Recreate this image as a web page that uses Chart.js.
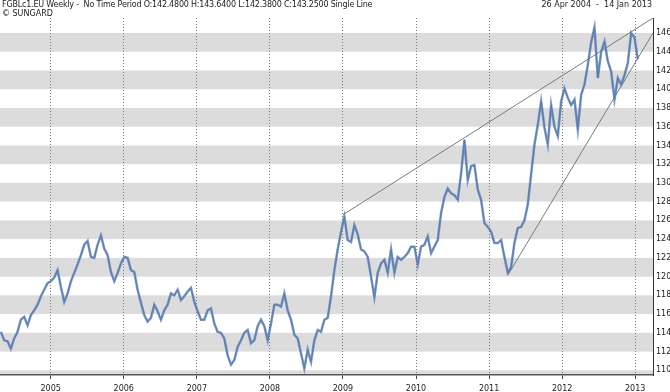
<!DOCTYPE html>
<html>
<head>
<meta charset="utf-8">
<script src="https://cdn.jsdelivr.net/npm/chart.js@4/dist/chart.umd.min.js"></script>
<style>
    html, body { margin: 0; padding: 0; background: #fff; }
    #wrap { position: relative; width: 670px; height: 392px; }
    #chartBund { position: absolute; left: 0; top: 0; }
    .hdr { position: absolute; font-family: "DejaVu Sans", sans-serif; font-size: 8px; color: #222; white-space: pre; line-height: 10px; }
</style>
</head>
<body>
<div id="wrap">
    <canvas id="chartBund" width="670" height="392"></canvas>
    <div class="hdr" style="left:2px; top:0px; letter-spacing:-0.2px;">FGBLc1.EU Weekly -  No Time Period O:142.4800 H:143.6400 L:142.3800 C:143.2500 Single Line</div>
    <div class="hdr" style="left:2px; top:9px;">© SUNGARD</div>
    <div class="hdr" style="right:18px; top:0px;">26 Apr 2004  -  14 Jan 2013</div>
</div>
<script>
// weekly closes, evenly spaced from 26 Apr 2004 to 14 Jan 2013
let startYear = 2004.318;
let endYear = 2013.036;

let closes = [
    114.1, 113.2, 113.1, 112.3, 113.4, 114.1, 115.4, 115.7, 114.8, 115.9,
    116.4, 117.0, 117.9, 118.6, 119.3, 119.5, 119.9, 120.7, 118.9, 117.3,
    118.2, 119.5, 120.4, 121.3, 122.3, 123.4, 123.8, 122.1, 122.0, 123.4,
    124.4, 123.0, 122.3, 120.5, 119.5, 120.4, 121.4, 122.1, 122.0,
    120.7, 120.5, 118.6, 117.2, 115.9, 115.2, 115.6, 117.0, 116.3, 115.4,
    116.4, 117.0, 118.2, 118.0, 118.6, 117.5, 117.9, 118.4, 118.8, 117.3,
    116.3, 115.4, 115.4, 116.4, 116.6, 115.0, 114.1, 114.0, 113.4, 111.6,
    110.6, 111.1, 112.5, 113.2, 114.0, 114.3, 112.9, 113.2, 114.7,
    115.4, 114.7, 113.2, 115.0, 117.0, 117.0, 116.8, 118.2, 116.4, 115.4,
    113.8, 113.4, 111.8, 110.2, 112.2, 110.9, 113.2, 114.3, 114.1, 115.4,
    115.6, 117.9, 120.7, 122.9, 124.8, 126.4, 123.9, 123.7, 125.5, 124.5,
    122.9, 122.7, 122.1, 120.0, 117.8, 120.4, 121.4, 121.8, 120.4, 122.9,
    120.4,
    122.1, 121.8, 122.1, 122.5, 123.2, 123.2, 121.3, 123.2, 123.4, 124.3,
    122.5, 123.2, 123.9, 126.8, 128.5, 129.4, 128.9, 128.7, 128.2, 131.0,
    134.6, 130.3, 131.8, 131.9, 129.3, 128.2, 125.7, 125.3, 124.8, 123.6,
    123.6, 123.9, 122.1, 120.4, 121.0, 123.6, 125.2, 125.3, 126.0,
    127.7, 130.9, 134.1, 136.2, 138.7, 135.9, 134.1, 138.3, 136.0, 135.0,
    138.7, 140.1, 139.1, 138.3, 138.9, 135.7, 139.4, 140.5, 142.6, 145.0,
    146.6, 141.2, 144.0, 145.1, 143.0, 141.9, 138.9, 141.2, 140.5, 141.5,
    142.8, 146.0, 145.5, 143.2
];

// trend lines drawn on the chart (year, price)
let upperTrend = [[2009.0, 126.6], [2013.2435, 147.6]];
let lowerTrend = [[2011.26, 120.2], [2013.2435, 146.0]];

let yearTicks = [2005, 2006, 2007, 2008, 2009, 2010, 2011, 2012, 2013];
let priceTicks = [110, 112, 114, 116, 118, 120, 122, 124, 126, 128, 130, 132, 134, 136, 138, 140, 142, 144, 146];
let greyBands = [[108, 110], [112, 114], [116, 118], [120, 122], [124, 126], [128, 130], [132, 134], [136, 138], [140, 142], [144, 146]];


let step = (endYear - startYear) / (closes.length - 1);
let points = closes.map((c, i) => ({ x: startYear + i * step, y: c }));

let bandsPlugin = {
    id: 'bands',
    beforeDraw(chart) {
        let ctx = chart.ctx;
        let area = chart.chartArea;
        let y = chart.scales.y;
        ctx.save();
        ctx.beginPath();
        ctx.rect(area.left, area.top, area.right - area.left, area.bottom - area.top);
        ctx.clip();
        ctx.fillStyle = '#dcdcdc';
        greyBands.forEach(b => {
            let top = y.getPixelForValue(b[1]);
            let bot = y.getPixelForValue(b[0]);
            ctx.fillRect(area.left, top, area.right - area.left, bot - top);
        });
        ctx.restore();
    }
};

let axisFont = { family: 'DejaVu Sans', size: 8 };

let contextBund = document.querySelector('#chartBund').getContext('2d');

let config = {
    type: 'line',
    data: {
        datasets: [{
            data: points,
            borderColor: 'rgba(90,128,180,0.8)',
            borderWidth: 2.5,
            pointRadius: 0,
            tension: 0
        }, {
            data: points,
            borderColor: '#2c5388',
            borderWidth: 0.8,
            pointRadius: 0,
            tension: 0
        }, {
            data: upperTrend.map(p => ({ x: p[0], y: p[1] })),
            borderColor: '#6e8277',
            borderWidth: 1,
            pointRadius: 0
        }, {
            data: lowerTrend.map(p => ({ x: p[0], y: p[1] })),
            borderColor: '#6e8277',
            borderWidth: 1,
            pointRadius: 0
        }]
    },
    options: {
        responsive: false,
        animation: false,
        layout: { padding: { top: 18, left: 0, right: 0, bottom: 0 } },
        plugins: {
            legend: { display: false },
            tooltip: { enabled: false }
        },
        scales: {
            x: {
                type: 'linear',
                min: 2004.306,
                max: 2013.2435,
                afterBuildTicks: axis => { axis.ticks = yearTicks.map(v => ({ value: v })); },
                afterFit: axis => { axis.height = 17; },
                ticks: {
                    callback: v => String(v),
                    font: axisFont,
                    color: '#222',
                    padding: 5,
                    maxRotation: 0
                },
                grid: {
                    color: '#7a7a7a',
                    lineWidth: 1,
                    tickLength: 4,
                    tickColor: '#444',
                    tickBorderDash: []
                },
                border: { display: true, color: '#555', width: 1.5, dash: [1, 2] }
            },
            y: {
                position: 'right',
                min: 109.5,
                max: 147.6,
                afterBuildTicks: axis => { axis.ticks = priceTicks.map(v => ({ value: v })); },
                afterFit: axis => { axis.width = 17; },
                ticks: {
                    callback: v => String(v),
                    font: axisFont,
                    color: '#222',
                    padding: 3
                },
                grid: { drawOnChartArea: false, drawTicks: false },
                border: { display: true, color: '#333', width: 1 }
            }
        }
    },
    plugins: [bandsPlugin]
};

let chartBund = new Chart(contextBund, config);
</script>
</body>
</html>
